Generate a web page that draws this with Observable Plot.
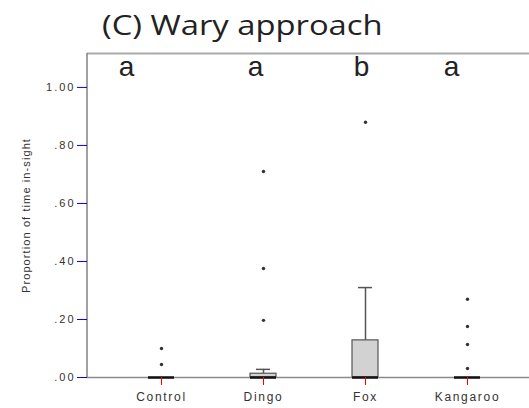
<!DOCTYPE html>
<html><head><meta charset="utf-8">
<script src="https://cdn.jsdelivr.net/npm/d3@7"></script>
<script src="https://cdn.jsdelivr.net/npm/@observablehq/plot@0.6"></script>
<style>
body{margin:0;background:#fff;width:529px;height:408px;overflow:hidden;}
#title{position:relative;height:45px;}
#title span{position:absolute;left:102px;top:5px;font-family:"Open Sans",sans-serif;font-size:28px;color:#222;transform:scaleX(1.17);transform-origin:0 0;white-space:nowrap;}
#chart svg{display:block;font-family:"Liberation Sans",Arial,sans-serif;}
g[aria-label="x-axis tick label"] text{letter-spacing:1.7px;}
g[aria-label="y-axis tick label"] text{letter-spacing:2px;}
g[aria-label="y-axis label"] text{letter-spacing:1.1px;}
</style></head>
<body>
<div id="title"><span>(C) Wary approach</span></div>
<div id="chart"></div>
<script>
const categories = ["Control", "Dingo", "Fox", "Kangaroo"];
const q1 = [0, 0, 0, 0];
const medians = [0, 0, 0, 0];
const q3 = [0, 0.013, 0.128, 0];
const whiskerHigh = [0, 0.028, 0.31, 0];
const outlierGroup = ["Control", "Control", "Dingo", "Dingo", "Dingo", "Fox", "Kangaroo", "Kangaroo", "Kangaroo", "Kangaroo"];
const outlierValue = [0.045, 0.10, 0.197, 0.376, 0.71, 0.88, 0.031, 0.114, 0.176, 0.27];
const letters = ["a", "a", "b", "a"];
const yTicks = [0, 0.2, 0.4, 0.6, 0.8, 1.0];
const yMax = 1.117;

// style: horizontal nudges of the significance letters
const letterShift = [-35, -8, -4, -16];

const boxes = categories.map((c, i) => ({cat: c, q1: q1[i], med: medians[i], q3: q3[i], hi: whiskerHigh[i]}));
const whisk = boxes.filter(d => d.hi > d.q3);
const outliers = outlierGroup.map((c, i) => ({cat: c, v: outlierValue[i]}));
const fmt = d => d === 1 ? "1.00" : d.toFixed(2).replace(/^0/, "");

const leftLine = (index, scales, values, dims) => {
  const l = d3.create("svg:line")
    .attr("x1", dims.marginLeft).attr("x2", dims.marginLeft)
    .attr("y1", scales.y(0)).attr("y2", scales.y(yMax))
    .attr("stroke", "#8a8a8a").attr("stroke-width", 1.6);
  return l.node();
};

const chart = Plot.plot({
  width: 529, height: 363,
  marginTop: 8, marginBottom: 31, marginLeft: 87, marginRight: 0,
  x: {type: "band", domain: categories, range: [87, 541], paddingInner: 0.75, paddingOuter: 0.58},
  y: {domain: [0, yMax]},
  marks: [
    Plot.ruleY([yMax], {stroke: "#aaa", strokeWidth: 2}),
    Plot.barY(boxes, {x: "cat", y1: "q1", y2: "q3", fill: "#d2d2d2", stroke: "#555", strokeWidth: 1.2}),
    Plot.ruleX(whisk, {x: "cat", y1: "q3", y2: "hi", stroke: "#555", strokeWidth: 1.5}),
    Plot.tickY(whisk, {x: "cat", y: "hi", inset: 6, stroke: "#555", strokeWidth: 1.5}),
    leftLine,
    Plot.ruleY([0], {stroke: "#8a8a8a", strokeWidth: 1.6}),
    Plot.tickY(boxes, {x: "cat", y: "med", stroke: "#111", strokeWidth: 2.5}),
    Plot.dot(outliers, {x: "cat", y: "v", r: 1.7, fill: "#333"}),
    ...letters.map((l, i) => Plot.text([categories[i]], {
      x: d => d, frameAnchor: "top", dy: 3, dx: letterShift[i], text: () => l,
      fontSize: 28, fill: "#222"
    })),
    Plot.axisY(yTicks, {
      tickSize: 10, tickPadding: 2, tickFormat: fmt, fontSize: 11, stroke: "blue", fill: "#333",
      label: "Proportion of time in-sight", labelAnchor: "center", labelArrow: "none", labelOffset: 65
    }),
    Plot.axisX({tickSize: 8, tickPadding: 7, fontSize: 12, stroke: "red", fill: "#333", label: null})
  ]
});
document.getElementById("chart").appendChild(chart);
</script>
</body></html>
